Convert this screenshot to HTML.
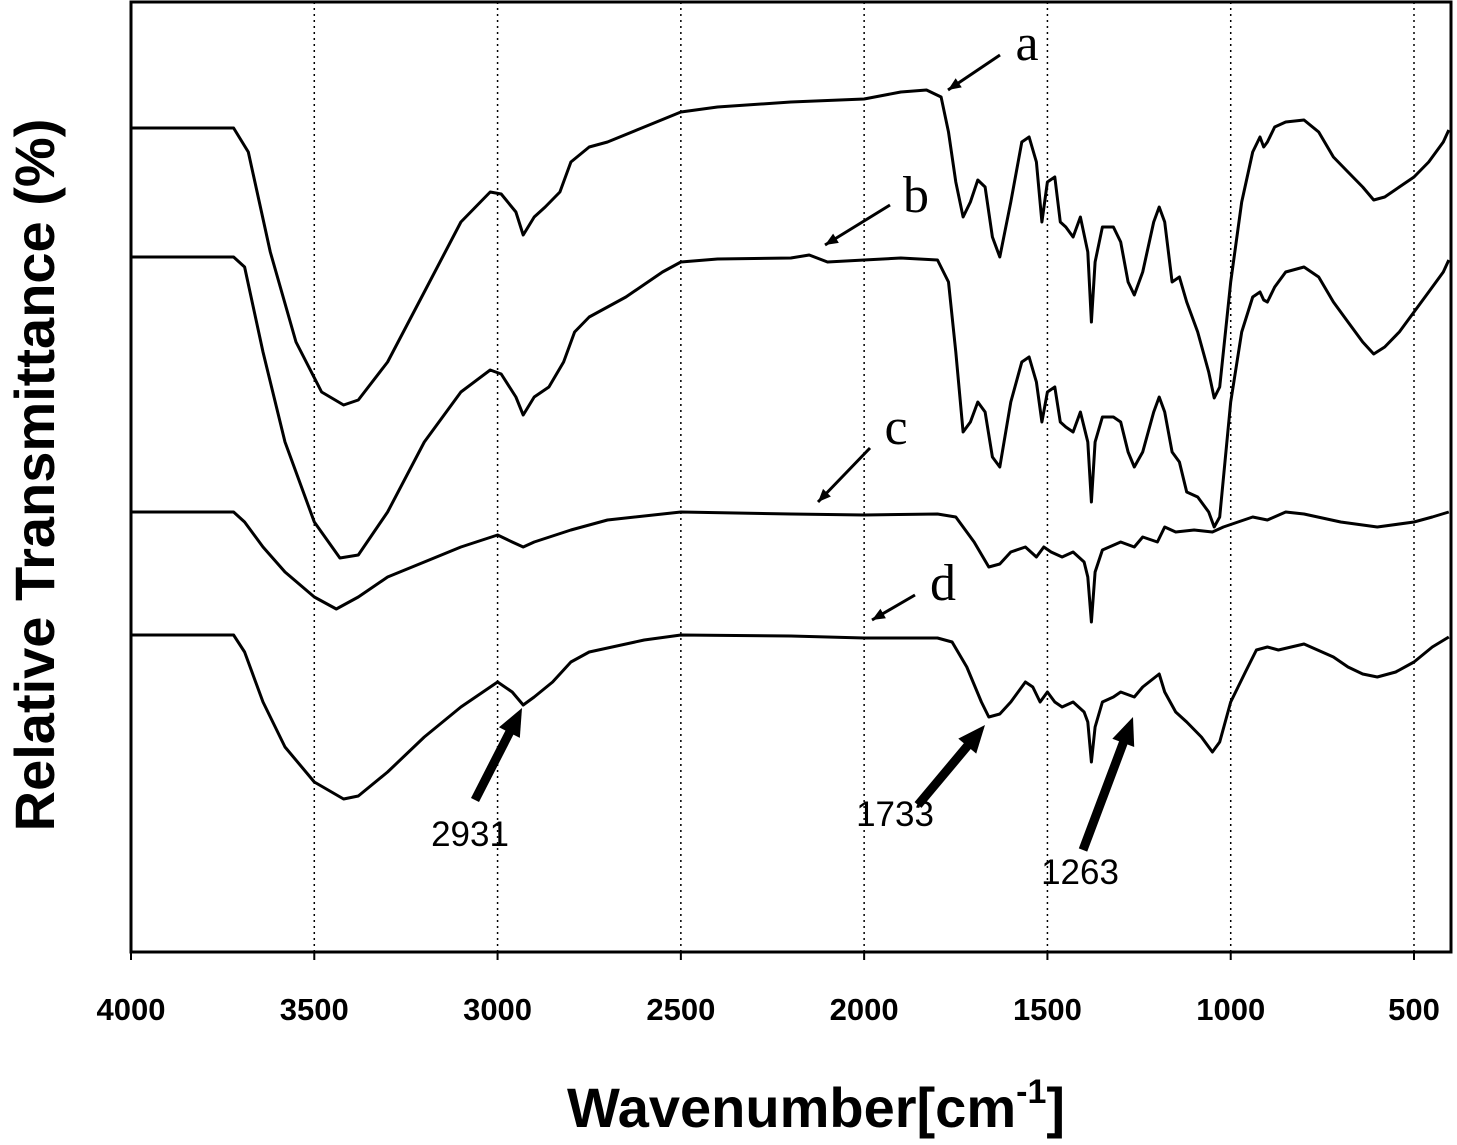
<!DOCTYPE html>
<html><head><meta charset="utf-8"><style>
html,body{margin:0;padding:0;background:#fff}
svg{display:block}
text{font-family:"Liberation Sans",Arial,sans-serif}
</style></head><body>
<svg id="chart" width="1457" height="1145" xmlns="http://www.w3.org/2000/svg">
<g id="grid"></g>
<g id="curves"></g>
<g id="axes"></g>
<g id="annot"></g>
<text x="0" y="0" transform="translate(54,475) rotate(-90)" text-anchor="middle" font-size="56" font-weight="bold">Relative Transmittance (%)</text>
<text x="816" y="1127" text-anchor="middle" font-size="56" font-weight="bold">Wavenumber[cm<tspan font-size="34" dy="-24">-1</tspan><tspan dy="24">]</tspan></text>
</svg>
<script>
// Data: wavenumber (cm-1) and relative offset depth (arbitrary units, 0 = top of plot, 950 = bottom)
const xTicks = [4000,3500,3000,2500,2000,1500,1000,500];
const waveA = [4000,3720,3680,3620,3550,3480,3420,3380,3300,3200,3100,3020,2990,2950,2930,2900,2870,2830,2800,2750,2700,2600,2500,2400,2200,2000,1900,1830,1790,1770,1750,1730,1710,1690,1670,1650,1630,1600,1570,1550,1530,1515,1500,1480,1465,1450,1430,1410,1390,1380,1370,1350,1320,1300,1280,1263,1240,1210,1195,1180,1160,1140,1120,1090,1060,1045,1030,1000,970,940,920,910,900,880,850,800,760,720,680,640,610,580,540,500,460,420,405];
const valA = [126,126,150,250,340,390,403,398,360,290,220,190,192,210,233,215,205,190,160,145,140,125,110,105,100,97,90,88,95,130,180,215,200,178,185,235,255,200,140,135,160,220,180,175,220,225,235,215,250,320,260,225,225,240,280,293,270,220,205,220,280,275,300,330,370,396,385,280,200,150,135,145,140,125,120,118,130,155,170,185,198,195,185,175,160,140,128];
const waveB = [4000,3720,3690,3640,3580,3500,3430,3380,3300,3200,3100,3020,2990,2950,2930,2900,2860,2820,2790,2750,2650,2550,2500,2400,2200,2150,2100,2000,1900,1800,1770,1750,1730,1710,1690,1670,1650,1630,1600,1570,1550,1530,1515,1500,1480,1465,1450,1430,1410,1390,1380,1370,1350,1320,1300,1280,1263,1240,1210,1195,1180,1160,1140,1120,1090,1060,1045,1030,1000,970,940,920,910,900,880,850,800,760,720,680,640,610,580,540,500,460,420,405];
const valB = [255,255,265,350,440,520,556,553,510,440,390,368,372,395,413,395,385,360,330,315,295,270,260,257,256,253,260,258,256,258,280,350,430,420,400,410,455,465,400,360,355,380,420,390,385,420,425,430,410,440,500,440,415,415,420,450,465,450,410,395,410,450,460,490,495,510,525,515,400,330,295,290,298,300,285,270,265,275,300,320,340,352,345,330,310,290,270,258];
const waveC = [4000,3720,3690,3640,3580,3500,3440,3380,3300,3200,3100,3000,2960,2930,2900,2800,2700,2500,2200,2000,1800,1750,1700,1660,1630,1600,1560,1530,1510,1490,1460,1430,1400,1390,1380,1370,1350,1300,1263,1240,1200,1180,1150,1100,1050,1020,980,940,900,850,800,700,600,500,450,405];
const valC = [510,510,520,545,570,595,607,595,575,560,545,533,540,545,540,528,518,510,512,513,512,515,540,565,562,550,545,555,545,550,555,550,560,575,620,570,548,540,545,535,540,525,530,528,530,525,520,515,518,510,512,520,525,520,515,510];
const waveD = [4000,3720,3690,3640,3580,3500,3420,3380,3300,3200,3100,3000,2960,2930,2900,2850,2800,2750,2600,2500,2200,2000,1800,1760,1720,1680,1660,1630,1600,1560,1540,1520,1500,1480,1460,1430,1400,1390,1380,1370,1350,1320,1300,1263,1240,1195,1180,1150,1120,1080,1050,1030,1000,960,930,900,870,800,720,680,640,600,550,500,450,405];
const valD = [633,633,650,700,745,780,797,794,770,735,705,680,690,703,695,680,660,650,638,633,634,636,636,640,665,700,715,712,700,680,685,700,690,700,705,700,710,720,760,725,700,695,690,695,685,672,690,710,720,735,750,740,700,670,648,645,648,642,655,665,672,675,670,660,645,635];
const labels = ['a','b','c','d'];

const NS='http://www.w3.org/2000/svg';
const L=131,R=1451,T=2,B=952;
const xScale=w=>L+(4000-w)*(1414-131)/3500;
const yScale=v=>T+v*(B-T)/950;
function mk(tag,attrs,parent){const e=document.createElementNS(NS,tag);for(const k in attrs)e.setAttribute(k,attrs[k]);parent.appendChild(e);return e;}
const grid=document.getElementById('grid'),axes=document.getElementById('axes'),curves=document.getElementById('curves'),annot=document.getElementById('annot');
xTicks.forEach(t=>{
  const x=xScale(t);
  if(t!==4000){const g=mk('line',{x1:x,x2:x,y1:T,y2:B,stroke:'#000','stroke-width':1.5,'stroke-dasharray':'2,4'},grid);
  
  }
  const tk=mk('line',{x1:x,x2:x,y1:B,y2:B+8,stroke:'#000','stroke-width':2},axes);
  
  
  const tl=mk('text',{x:x,y:1020,'text-anchor':'middle','font-size':31,'font-weight':'bold'},axes);
  tl.textContent=t;
  
  
});
const frame=mk('rect',{x:L,y:T,width:R-L,height:B-T,fill:'none',stroke:'#000','stroke-width':3},axes);


const series=[[waveA,valA],[waveB,valB],[waveC,valC],[waveD,valD]];
series.forEach((s,i)=>{
  const d=s[0].map((w,j)=>(j?'L':'M')+xScale(w).toFixed(1)+','+yScale(s[1][j]).toFixed(1)).join('');
  const p=mk('path',{d:d,fill:'none',stroke:'#000','stroke-width':3,'stroke-linejoin':'round'},curves);
  
  
});
// thin arrows with letters
[[1000,55,948,90,1027,60,'a'],[890,205,825,245,916,212,'b'],[870,448,818,502,896,444,'c'],[915,595,872,620,943,600,'d']].forEach(a=>{
  const ln=mk('line',{x1:a[0],y1:a[1],x2:a[2],y2:a[3],stroke:'#000','stroke-width':3},annot);
  
  
  const ang=Math.atan2(a[3]-a[1],a[2]-a[0]),s=14;
  const hd=mk('polygon',{points:`${a[2]},${a[3]} ${a[2]-s*Math.cos(ang-0.4)},${a[3]-s*Math.sin(ang-0.4)} ${a[2]-s*Math.cos(ang+0.4)},${a[3]-s*Math.sin(ang+0.4)}`,fill:'#000'},annot);
  
  
  const t=mk('text',{x:a[4],y:a[5],'text-anchor':'middle','font-size':52,style:'font-family:"Liberation Serif",serif'},annot);
  t.textContent=a[6];
  
  
});
// thick arrows with peak labels
[[475,800,522,708,470,846,'2931'],[918,805,985,725,895,826,'1733'],[1083,850,1133,717,1080,884,'1263']].forEach(a=>{
  const ang=Math.atan2(a[3]-a[1],a[2]-a[0]),s=30;
  const ln=mk('line',{x1:a[0],y1:a[1],x2:a[2]-s*0.8*Math.cos(ang),y2:a[3]-s*0.8*Math.sin(ang),stroke:'#000','stroke-width':9},annot);
  
  
  const hd=mk('polygon',{points:`${a[2]},${a[3]} ${a[2]-s*Math.cos(ang-0.4)},${a[3]-s*Math.sin(ang-0.4)} ${a[2]-s*Math.cos(ang+0.4)},${a[3]-s*Math.sin(ang+0.4)}`,fill:'#000'},annot);
  
  
  const t=mk('text',{x:a[4],y:a[5],'text-anchor':'middle','font-size':35},annot);
  t.textContent=a[6];
  
  
});
</script>
</body></html>
